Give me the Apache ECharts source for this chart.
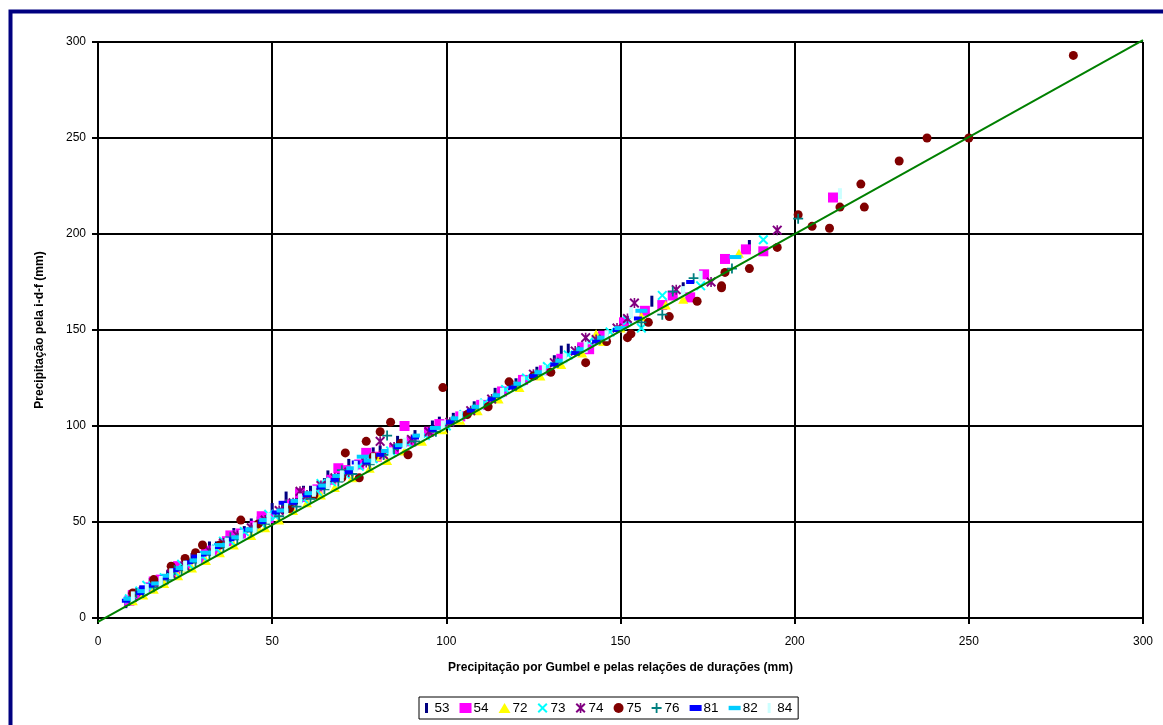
<!DOCTYPE html>
<html>
<head>
<meta charset="utf-8">
<title>Precipitação</title>
<script src="https://cdn.jsdelivr.net/npm/echarts@6/dist/echarts.min.js"></script>
<style>
html, body { margin: 0; padding: 0; background: #fff; }
#chart { width: 1163px; height: 725px; }
</style>
</head>
<body>
<div id="chart"></div>
<script>
var seriesNames = ['53', '54', '72', '73', '74', '75', '76', '81', '82', '84'];
var axisTicks = [0, 50, 100, 150, 200, 250, 300];

// pontos [Gumbel, i-d-f]
var s53 = [[8,8],[9,11],[11,12],[14,15],[15,18],[17,19],[20,22],[21,25],[23,25],[26,28],[27,31],[30,33],[32,37],[34,37],[38,41],[39,44],[42,45],[44,49],[46,50],[50,57],[53,57],[54,63],[57,62],[59,66],[61,66],[65,70],[66,74],[69,75],[72,80],[76,82],[79,86],[81,87],[86,92],[91,95],[96,100],[98,102],[102,104],[108,110],[114,117],[120,122],[126,128],[131,134],[133,139],[135,140],[138,140],[144,146],[150,152],[156,158],[159,165],[168,172],[187,194]];
var s54 = [[9,9],[10,12],[12,13],[15,16],[16,19],[18,20],[22,24],[23,27],[25,27],[29,31],[31,35],[33,35],[37,40],[38,43],[41,44],[45,48],[47,53],[49,52],[55,59],[58,65],[59,63],[63,67],[67,72],[69,78],[71,77],[75,80],[77,86],[80,84],[85,88],[88,100],[90,92],[95,97],[98,101],[104,105],[110,111],[116,118],[122,124],[128,129],[133,135],[139,141],[141,140],[145,147],[151,154],[157,160],[162,163],[165,168],[170,167],[174,179],[180,187],[186,192],[191,191],[211,219]];
var s72 = [[10,9],[13,12],[16,15],[19,18],[23,22],[25,26],[27,26],[31,30],[35,34],[39,38],[44,43],[46,47],[48,47],[52,51],[56,56],[60,60],[64,64],[68,68],[73,73],[78,78],[80,84],[83,82],[88,87],[93,92],[99,98],[104,103],[109,108],[115,114],[121,120],[127,126],[133,132],[139,138],[143,148],[145,144],[150,151],[156,157],[163,163],[168,166],[184,190]];
var s73 = [[9,10],[12,14],[14,17],[16,17],[19,21],[22,24],[24,28],[26,28],[30,32],[34,36],[36,40],[38,40],[42,45],[47,49],[49,54],[51,53],[55,57],[59,62],[63,66],[64,70],[67,71],[71,75],[75,79],[79,83],[84,87],[89,91],[94,95],[100,100],[105,106],[111,112],[117,119],[123,125],[129,131],[135,137],[141,144],[147,149],[152,155],[156,151],[162,168],[173,173],[191,197]];
var s74 = [[10,11],[13,14],[17,18],[21,23],[25,27],[28,31],[32,35],[36,39],[40,43],[44,47],[48,51],[52,56],[56,60],[58,66],[60,64],[64,69],[68,73],[72,76],[77,81],[81,92],[82,85],[85,89],[90,93],[95,97],[101,102],[107,108],[113,114],[119,121],[125,127],[131,133],[137,139],[140,146],[143,145],[149,151],[152,156],[154,164],[166,171],[176,175],[195,202]];
var s75 = [[10,13],[16,20],[21,27],[25,31],[28,34],[30,38],[35,38],[41,51],[46,49],[55,57],[62,64],[70,73],[71,86],[75,73],[77,92],[79,84],[81,97],[84,102],[87,91],[89,85],[99,120],[106,106],[112,110],[118,123],[125,126],[130,128],[140,133],[146,144],[152,146],[153,148],[158,154],[164,157],[172,165],[179,172],[179,173],[180,180],[187,182],[195,193],[201,210],[205,204],[210,203],[213,214],[219,226],[220,214],[230,238],[238,250],[250,250],[280,293]];
var s76 = [[9,9],[11,13],[13,13],[16,16],[20,20],[22,25],[24,25],[28,29],[32,33],[36,37],[38,42],[40,41],[44,45],[48,49],[52,53],[54,59],[57,58],[61,62],[65,67],[69,71],[70,77],[73,75],[78,80],[82,85],[83,95],[85,88],[91,92],[97,97],[102,103],[108,109],[114,115],[120,121],[126,127],[132,133],[138,139],[144,145],[156,154],[162,158],[165,170],[171,177],[182,182],[201,208]];
var s81 = [[8,9],[12,13],[13,16],[15,17],[19,21],[22,25],[26,29],[28,32],[30,33],[34,37],[38,41],[43,46],[47,50],[51,55],[53,60],[56,60],[60,64],[64,68],[68,72],[72,76],[74,81],[77,81],[81,85],[86,89],[91,94],[96,98],[101,102],[107,108],[113,114],[119,120],[125,126],[131,132],[137,138],[143,144],[149,150],[155,156],[170,175]];
var s82 = [[9,10],[13,14],[17,18],[20,22],[24,26],[28,30],[31,34],[35,38],[40,42],[44,46],[48,51],[53,56],[57,61],[61,65],[65,69],[69,74],[73,78],[76,84],[78,82],[83,87],[87,90],[92,95],[97,99],[103,104],[109,110],[115,116],[121,122],[127,128],[133,134],[139,140],[145,146],[150,151],[156,160],[183,188]];
var s84 = [[10,11],[14,15],[18,19],[21,23],[25,27],[29,31],[33,35],[37,39],[41,43],[45,47],[49,52],[54,57],[58,62],[62,66],[66,70],[70,74],[74,79],[79,83],[84,86],[88,91],[93,95],[99,100],[104,105],[110,111],[116,117],[122,123],[128,129],[134,135],[140,141],[146,147],[153,159],[168,170],[173,178],[213,221]];
var lineData = [[0,-2],[300,301]];

var pathX = 'path://M0,1.4L1.4,0L5,3.6L8.6,0L10,1.4L6.4,5L10,8.6L8.6,10L5,6.4L1.4,10L0,8.6L3.6,5Z';
var pathStar = 'path://M0,1.4L1.4,0L5,3.6L8.6,0L10,1.4L6.4,5L10,8.6L8.6,10L5,6.4L1.4,10L0,8.6L3.6,5Z M4.2,0H5.8V10H4.2Z';
var pathPlus = 'path://M4.1,0H5.9V4.1H10V5.9H5.9V10H4.1V5.9H0V4.1H4.1Z';
var pathVBar = 'path://M0,0H3V10H0Z';
var pathDash = 'path://M0,0H8V4H0Z';
var pathLDash = 'path://M0,0H11V4H0Z';

var font = '"Liberation Sans", Arial, sans-serif';

function pts(name, data, symbol, size, color) {
    return {
        name: name,
        type: 'scatter',
        data: data,
        symbol: symbol,
        symbolSize: size,
        symbolKeepAspect: true,
        itemStyle: { color: color, opacity: 1 },
        emphasis: { disabled: true }
    };
}

var option = {
    animation: false,
    textStyle: { fontFamily: font },
    graphic: [
        {
            type: 'rect',
            shape: { x: 10.5, y: 11.5, width: 1200, height: 800 },
            style: { fill: 'none', stroke: '#000080', lineWidth: 4 },
            z: -10
        }
    ],
    grid: {
        left: 98,
        right: 20,
        top: 42,
        bottom: 107
    },
    legend: {
        data: [
            { name: '53', icon: pathVBar },
            { name: '54', icon: 'rect' },
            { name: '72', icon: 'triangle' },
            { name: '73', icon: pathX },
            { name: '74', icon: pathStar },
            { name: '75', icon: 'circle' },
            { name: '76', icon: pathPlus },
            { name: '81', icon: pathDash },
            { name: '82', icon: pathLDash },
            { name: '84', icon: pathVBar }
        ],
        left: 419,
        top: 697,
        itemWidth: 12,
        itemHeight: 10,
        itemGap: 10,
        padding: [4, 6, 4, 6],
        borderColor: '#000',
        borderWidth: 1,
        selectedMode: false,
        textStyle: { fontFamily: font, fontSize: 13.5, color: '#000', padding: [0, 0, 0, -3] }
    },
    xAxis: {
        type: 'value',
        min: 0,
        max: 300,
        interval: 50,
        name: 'Precipitação por Gumbel e pelas relações de durações (mm)',
        nameLocation: 'middle',
        nameGap: 44,
        nameTextStyle: { fontFamily: font, fontSize: 12, fontWeight: 'bold', color: '#000' },
        axisLine: { lineStyle: { color: '#000', width: 2 } },
        axisTick: { show: true, length: 6, lineStyle: { color: '#000', width: 2 } },
        axisLabel: { fontFamily: font, fontSize: 12, color: '#000', margin: 18 },
        splitLine: { show: true, lineStyle: { color: '#000', width: 2 } }
    },
    yAxis: {
        type: 'value',
        min: 0,
        max: 300,
        interval: 50,
        name: 'Precipitação pela i-d-f (mm)',
        nameLocation: 'middle',
        nameGap: 52,
        nameTextStyle: { fontFamily: font, fontSize: 12, fontWeight: 'bold', color: '#000' },
        axisLine: { show: true, lineStyle: { color: '#000', width: 2 } },
        axisTick: { show: true, length: 6, lineStyle: { color: '#000', width: 2 } },
        axisLabel: { fontFamily: font, fontSize: 12, color: '#000', margin: 12 },
        splitLine: { show: true, lineStyle: { color: '#000', width: 2 } }
    },
    series: [
        pts('53', s53, 'rect', [3, 11], '#000080'),
        pts('54', s54, 'rect', [10, 10], '#FF00FF'),
        pts('72', s72, 'triangle', [10, 9], '#FFFF00'),
        pts('73', s73, pathX, 10, '#00FFFF'),
        pts('74', s74, pathStar, 10, '#800080'),
        pts('75', s75, 'circle', 9, '#800000'),
        pts('76', s76, pathPlus, 10, '#008080'),
        pts('81', s81, 'rect', [8, 4], '#0000FF'),
        pts('82', s82, 'rect', [12, 4], '#00CCFF'),
        pts('84', s84, 'rect', [4, 11], '#CCFFFF'),
        {
            name: 'linha',
            type: 'line',
            data: lineData,
            symbol: 'none',
            clip: false,
            lineStyle: { color: '#008000', width: 2 },
            emphasis: { disabled: true },
            z: 5
        }
    ]
};

var dom = document.getElementById('chart');
var myChart = echarts.init(dom, null, { renderer: 'canvas' });
myChart.setOption(option);
</script>
</body>
</html>
